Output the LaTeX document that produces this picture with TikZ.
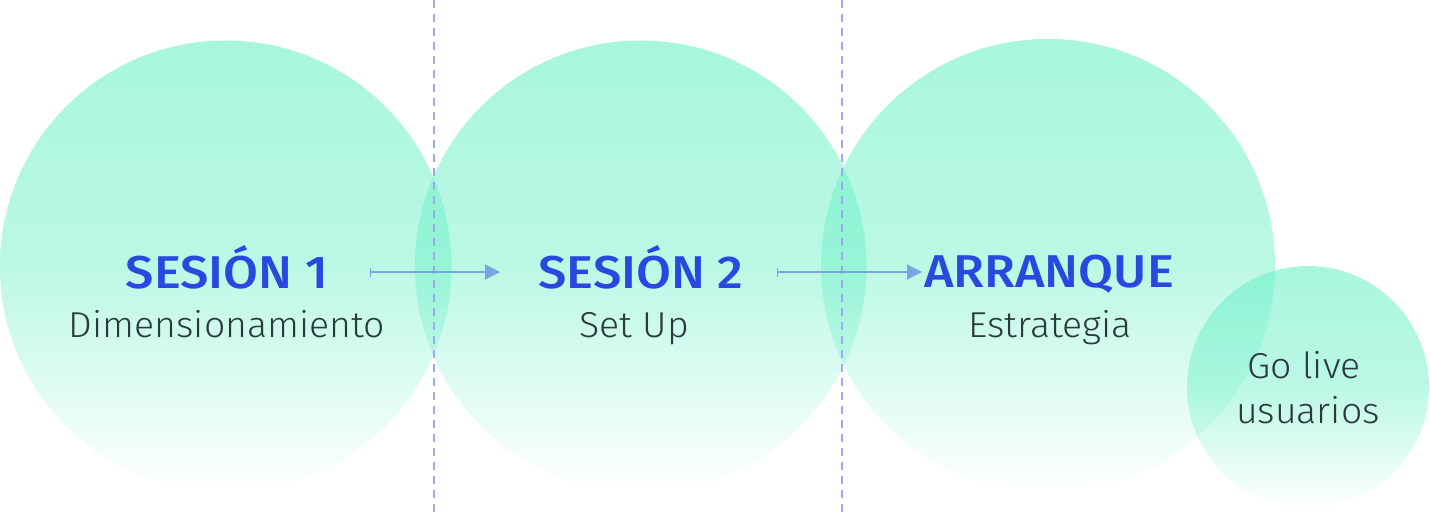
\documentclass[tikz,border=0pt]{standalone}
\usepackage{fontspec}
\setmainfont{Fira Sans}
\newfontfamily\ttlfont{Fira Sans Medium}[FakeStretch=1.1]
\newfontfamily\subfont{Fira Sans Light}[FakeStretch=1.04]
\usetikzlibrary{fadings,arrows.meta}
\definecolor{mint}{RGB}{110,240,200}
\definecolor{titleblue}{RGB}{40,72,224}
\definecolor{subgrey}{RGB}{42,58,58}
\definecolor{dashc}{RGB}{160,168,240}
\definecolor{arrc}{RGB}{120,164,226}
\tikzfading[name=circfade, top color=transparent!0, bottom color=transparent!100, middle color=transparent!22]
\begin{document}
\begin{tikzpicture}[x=1pt,y=-1pt,
  bubble/.style={circle, inner sep=0pt, fill=mint, fill opacity=0.6, path fading=circfade},
  ttl/.style={font=\fontsize{46}{46}\ttlfont, text=titleblue, anchor=base},
  sub/.style={font=\fontsize{36}{36}\subfont, text=subgrey, anchor=base},
  guide/.style={draw=dashc, line width=1.4pt, dash pattern=on 8pt off 6pt},
  flow/.style={draw=arrc, line width=1.2pt, {Bar[width=9pt]}-{Triangle[length=15pt,width=15pt]}}]
\useasboundingbox (0,0) rectangle (1430,512);
\node[bubble, minimum size=452] (c1) at (226,266) {};
\node[bubble, minimum size=452] (c2) at (641,266) {};
\node[bubble, minimum size=454] (c3) at (1048,266) {};
\node[bubble, minimum size=242] (c4) at (1308,387) {};
\coordinate (g1t) at (434,0); \coordinate (g1b) at (434,512);
\coordinate (g2t) at (842,0); \coordinate (g2b) at (842,512);
\draw[guide] (g1t) -- (g1b);
\draw[guide] (g2t) -- (g2b);
\coordinate (a1s) at (370,272); \coordinate (a1e) at (500,272);
\coordinate (a2s) at (777,272); \coordinate (a2e) at (922,272);
\draw[flow] (a1s) -- (a1e);
\draw[flow] (a2s) -- (a2e);
\node[ttl] (t1) at (227,288) {SESIÓN 1};
\node[sub] (s1) at (227,337) {Dimensionamiento};
\node[ttl] (t2) at (641,288) {SESIÓN 2};
\node[sub] (s2) at (634,337) {Set Up};
\node[ttl] (t3) at (1049,287) {ARRANQUE};
\node[sub] (s3) at (1050,337) {Estrategia};
\node[sub] (s4a) at (1304,378) {Go live};
\node[sub] (s4b) at (1308,423) {usuarios};
\end{tikzpicture}
\end{document}
